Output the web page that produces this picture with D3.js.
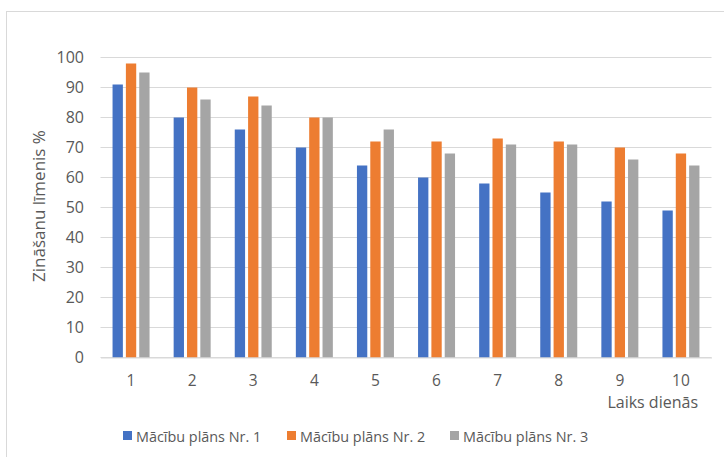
<!DOCTYPE html>
<html>
<head>
<meta charset="utf-8">
<script src="https://cdn.jsdelivr.net/npm/d3@7"></script>
<style>
  html, body { margin: 0; padding: 0; background: #fff; }
  svg { display: block; font-family: "Open Sans", "Noto Sans", sans-serif; }
</style>
</head>
<body>
<svg id="chart" width="724" height="457"></svg>
<script>
// Days on the x axis
const days = ["1", "2", "3", "4", "5", "6", "7", "8", "9", "10"];
// Knowledge level (%) per study plan
const plan1 = [91, 80, 76, 70, 64, 60, 58, 55, 52, 49];
const plan2 = [98, 90, 87, 80, 72, 72, 73, 72, 70, 68];
const plan3 = [95, 86, 84, 80, 76, 68, 71, 71, 66, 64];
const seriesNames = ["Mācību plāns Nr. 1", "Mācību plāns Nr. 2", "Mācību plāns Nr. 3"];
const seriesColors = ["#4472C4", "#ED7D31", "#A5A5A5"];
const yTicks = [0, 10, 20, 30, 40, 50, 60, 70, 80, 90, 100];

const series = [plan1, plan2, plan3].map((vals, i) => ({
  name: seriesNames[i], color: seriesColors[i], values: vals
}));

const svg = d3.select("#chart");
const textColor = "#595959";

// Outer chart frame
svg.append("rect")
  .attr("x", 6.5).attr("y", 11.5)
  .attr("width", 800).attr("height", 500)
  .attr("fill", "none").attr("stroke", "#D9D9D9").attr("stroke-width", 1);

const plot = { left: 100.5, right: 711.5, top: 57.5, bottom: 357.5 };

const x0 = d3.scaleBand().domain(days).range([plot.left, plot.right]).padding(0);
const groupW = 37;
const x1 = d3.scaleBand().domain(seriesNames).range([0, groupW]).paddingInner(0.226).paddingOuter(0);
const y = d3.scaleLinear().domain([0, 100]).range([plot.bottom, plot.top]);

// Horizontal gridlines
svg.append("g")
  .selectAll("line")
  .data(yTicks)
  .join("line")
  .attr("x1", plot.left).attr("x2", plot.right)
  .attr("y1", d => y(d)).attr("y2", d => y(d))
  .attr("stroke", "#D9D9D9").attr("stroke-width", 1);

// Y axis tick labels
const yAxis = d3.axisLeft(y).tickValues(yTicks).tickSize(0).tickPadding(0);
const gy = svg.append("g").attr("transform", `translate(84,0)`).call(yAxis);
gy.select(".domain").remove();
gy.selectAll("text")
  .attr("fill", textColor)
  .style("font-size", "16px")
  .style("font-family", "'Open Sans', sans-serif");

// Bars
const groups = svg.append("g")
  .selectAll("g")
  .data(days)
  .join("g")
  .attr("transform", d => `translate(${x0(d) + x0.bandwidth() / 2 - groupW / 2},0)`);

groups.selectAll("rect")
  .data((d, i) => series.map(s => ({ name: s.name, color: s.color, value: s.values[i] })))
  .join("rect")
  .attr("x", d => x1(d.name))
  .attr("width", x1.bandwidth())
  .attr("y", d => y(d.value))
  .attr("height", d => y(0) - y(d.value))
  .attr("fill", d => d.color);

// X axis line and labels
const xAxis = d3.axisBottom(x0).tickSize(0).tickPadding(0);
const gx = svg.append("g").attr("transform", `translate(0,${plot.bottom})`).call(xAxis);
gx.select(".domain").attr("stroke", "#D9D9D9");
gx.selectAll("text")
  .attr("fill", textColor)
  .attr("dy", null)
  .attr("y", 28)
  .style("font-size", "15.5px")
  .style("font-family", "'Open Sans', sans-serif");

// Axis titles
svg.append("text")
  .attr("transform", "translate(45,206) rotate(-90)")
  .attr("text-anchor", "middle")
  .attr("fill", textColor)
  .style("font-size", "17px")
  .text("Zināšanu līmenis %");

svg.append("text")
  .attr("x", 698).attr("y", 407.5)
  .attr("text-anchor", "end")
  .attr("fill", textColor)
  .style("font-size", "16px")
  .text("Laiks dienās");

// Legend
const legendX = [123, 287, 450];
const legend = svg.append("g")
  .selectAll("g")
  .data(series)
  .join("g")
  .attr("transform", (d, i) => `translate(${legendX[i]},431)`);
legend.append("rect")
  .attr("width", 9).attr("height", 9)
  .attr("fill", d => d.color);
legend.append("text")
  .attr("x", 13).attr("y", 10.5)
  .attr("fill", textColor)
  .style("font-size", "14.4px")
  .text(d => d.name);
</script>
</body>
</html>
